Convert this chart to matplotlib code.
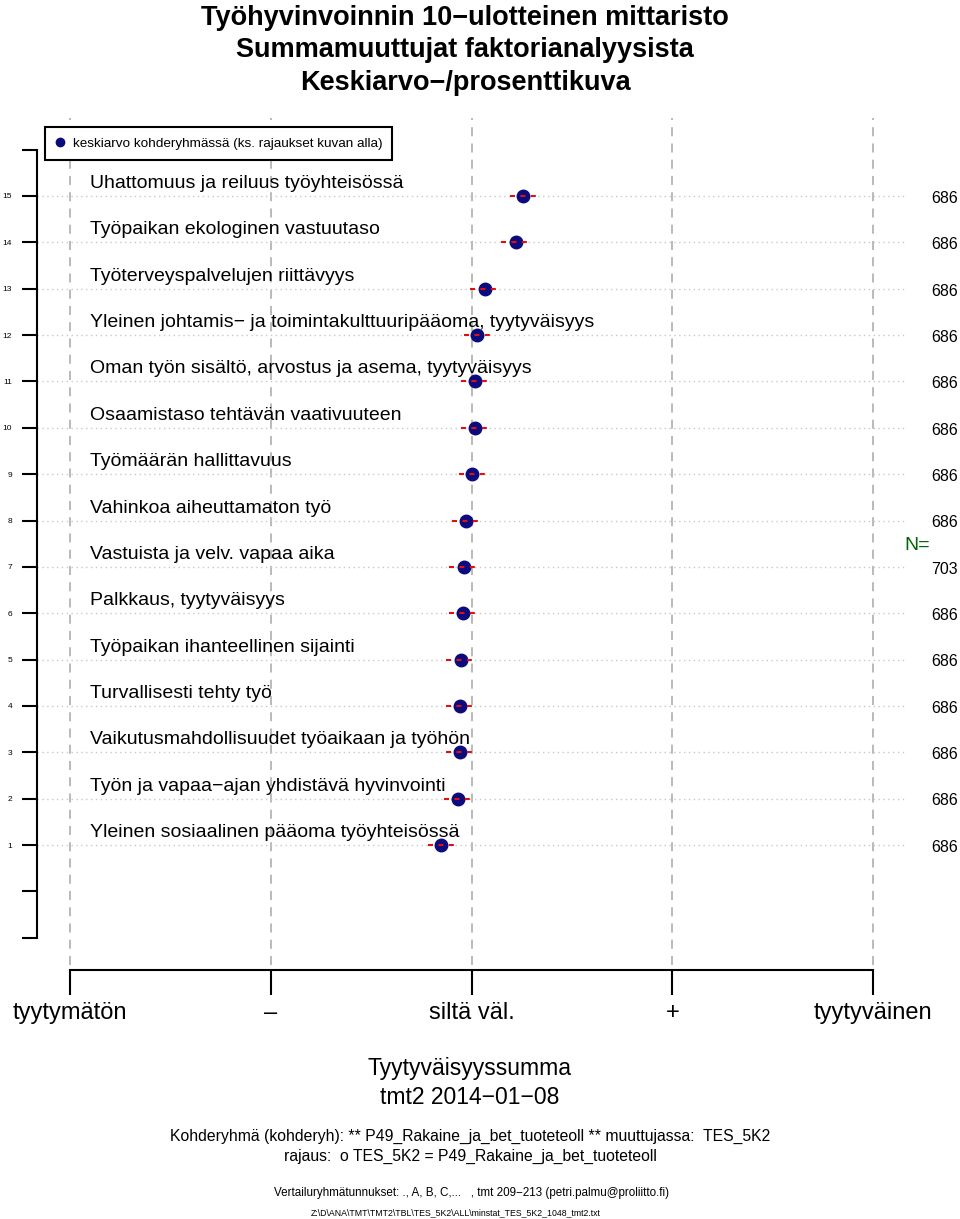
import matplotlib
matplotlib.use("Agg")
import matplotlib.pyplot as plt
from matplotlib.lines import Line2D

plt.rcParams['font.family'] = ['Liberation Sans', 'DejaVu Sans']

# Data (top row = 15, bottom row = 1)
categories = [
    "Uhattomuus ja reiluus työyhteisössä",
    "Työpaikan ekologinen vastuutaso",
    "Työterveyspalvelujen riittävyys",
    "Yleinen johtamis\u2212 ja toimintakulttuuripääoma, tyytyväisyys",
    "Oman työn sisältö, arvostus ja asema, tyytyväisyys",
    "Osaamistaso tehtävän vaativuuteen",
    "Työmäärän hallittavuus",
    "Vahinkoa aiheuttamaton työ",
    "Vastuista ja velv. vapaa aika",
    "Palkkaus, tyytyväisyys",
    "Työpaikan ihanteellinen sijainti",
    "Turvallisesti tehty työ",
    "Vaikutusmahdollisuudet työaikaan ja työhön",
    "Työn ja vapaa\u2212ajan yhdistävä hyvinvointi",
    "Yleinen sosiaalinen pääoma työyhteisössä",
]
means = [3.257, 3.222, 3.067, 3.027, 3.017, 3.017, 3.002, 2.973,
         2.963, 2.958, 2.948, 2.943, 2.943, 2.933, 2.848]
ci_half = [0.065, 0.075, 0.075, 0.065, 0.07, 0.07, 0.065, 0.07,
           0.075, 0.07, 0.075, 0.07, 0.07, 0.07, 0.065]
n_values = [686, 686, 686, 686, 686, 686, 686, 686,
            703, 686, 686, 686, 686, 686, 686]
rows = list(range(15, 0, -1))
scale_ticks = [1, 2, 3, 4, 5]
scale_labels = ["tyytymätön", "\u2013", "siltä väl.", "+", "tyytyväinen"]
y_ticks = list(range(-1, 17))

W, H = 960, 1219
PX_X = 200.75   # pixels per scale unit
PX_Y = 46.36    # pixels per row

def xd(px):
    return 1 + (px - 70) / PX_X

def yd(py):
    return 15 - (py - 196) / PX_Y

fig = plt.figure(figsize=(W / 100, H / 100), dpi=100)
ax = fig.add_axes([0, (H - 1000) / H, 1, 900 / H])
ax.set_xlim(xd(0), xd(W))
ax.set_ylim(yd(1000), yd(100))
ax.patch.set_visible(False)

for s in ("top", "right"):
    ax.spines[s].set_visible(False)
ax.spines["left"].set_position(("data", xd(37)))
ax.spines["left"].set_bounds(-1, 16)
ax.spines["bottom"].set_position(("data", yd(970)))
ax.spines["bottom"].set_bounds(1, 5)
for s in ("left", "bottom"):
    ax.spines[s].set_linewidth(1.5)

ax.set_yticks(y_ticks)
ax.set_yticklabels([str(v) if 1 <= v <= 15 else "" for v in y_ticks])
ax.tick_params(axis="y", length=11, width=1.5, labelsize=6, pad=7)
ax.set_xticks(scale_ticks)
ax.set_xticklabels(scale_labels)
ax.tick_params(axis="x", length=18, width=1.5, labelsize=17, pad=5)

# grid
ax.vlines(scale_ticks, yd(965), yd(118), colors="#b4b4b4",
          linestyles=(0, (5, 4)), lw=1.3, zorder=1)
ax.hlines(rows, xd(37), xd(905), colors="#c8c8c8",
          linestyles=(0, (1, 2.5)), lw=1.0, zorder=1)

# points and intervals
ax.plot(means, rows, "o", color="#0b0b7e", ms=9, zorder=3, clip_on=False)
for m, h, r in zip(means, ci_half, rows):
    ax.plot([m - h, m + h], [r, r], color="#dd1111", lw=1.5,
            ls=(0, (2.4, 2.6)), zorder=4)

for lab, r in zip(categories, rows):
    ax.text(xd(90), r + 0.27, lab, fontsize=14, ha="left", va="center")

for n, r in zip(n_values, rows):
    ax.text(xd(958), r - 0.05, str(n), fontsize=11.5, ha="right", va="center")
ax.text(xd(917), yd(545), "N=", fontsize=14, color="#006400",
        ha="center", va="center")

leg = ax.legend(handles=[Line2D([], [], marker="o", ls="", color="#0b0b7e", ms=6)],
                labels=["keskiarvo kohderyhmässä (ks. rajaukset kuvan alla)"],
                loc="upper left", bbox_to_anchor=(45 / W, 1 - 127 / H),
                bbox_transform=fig.transFigure, fancybox=False, framealpha=1,
                edgecolor="black", fontsize=9.7, borderaxespad=0,
                handlelength=0.8, handletextpad=0.5, borderpad=0.75)
leg.get_frame().set_linewidth(1.5)

# titles
for txt, y in [("Työhyvinvoinnin 10\u2212ulotteinen mittaristo", 18),
               ("Summamuuttujat faktorianalyysista", 50),
               ("Keskiarvo\u2212/prosenttikuva", 83)]:
    fig.text(465 / W, 1 - y / H, txt, fontsize=19.5, fontweight="bold",
             ha="center", va="center")

# footer
fig.text(470 / W, 1 - 1068 / H, "Tyytyväisyyssumma", fontsize=16.5, ha="center", va="center")
fig.text(470 / W, 1 - 1097 / H, "tmt2 2014\u221201\u221208", fontsize=16.5, ha="center", va="center")
fig.text(470 / W, 1 - 1136 / H,
         "Kohderyhmä (kohderyh): ** P49_Rakaine_ja_bet_tuoteteoll ** muuttujassa:  TES_5K2",
         fontsize=11.3, ha="center", va="center")
fig.text(470 / W, 1 - 1156 / H, "rajaus:  o TES_5K2 = P49_Rakaine_ja_bet_tuoteteoll",
         fontsize=11.3, ha="center", va="center")
fig.text(471 / W, 1 - 1193 / H,
         "Vertailuryhmätunnukset: ., A, B, C,...   , tmt 209\u2212213 (petri.palmu@proliitto.fi)",
         fontsize=8.4, ha="center", va="center")
fig.text(456 / W, 1 - 1213 / H,
         "Z:\\D\\ANA\\TMT\\TMT2\\TBL\\TES_5K2\\ALL\\minstat_TES_5K2_1048_tmt2.txt",
         fontsize=6.3, ha="center", va="center")

fig.savefig("out.png", dpi=100)
